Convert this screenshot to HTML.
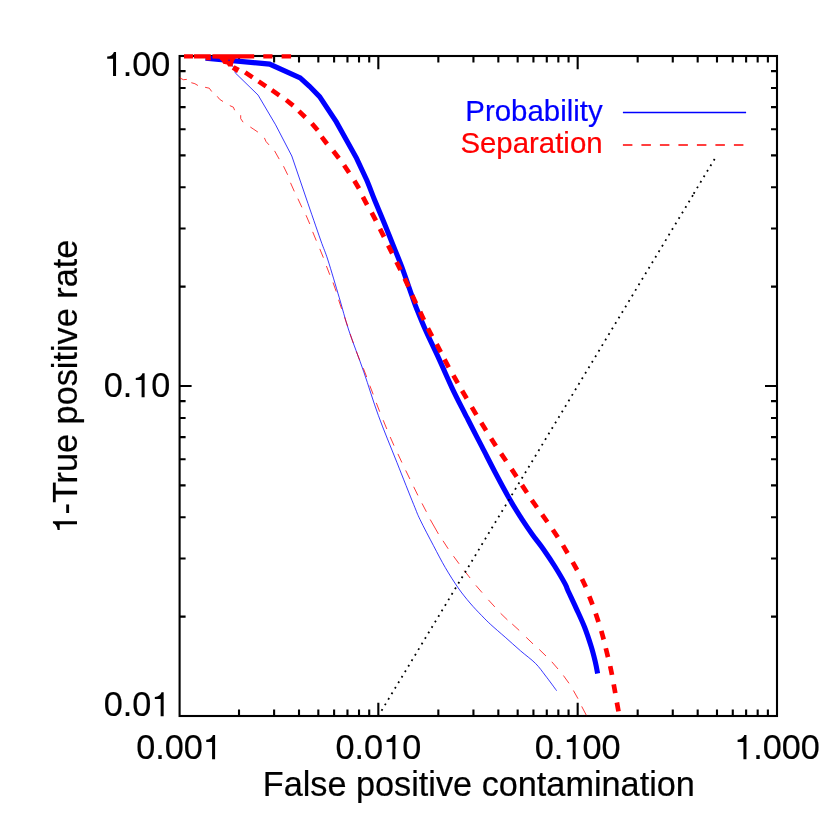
<!DOCTYPE html>
<html><head><meta charset="utf-8"><title>ROC</title>
<style>
html,body{margin:0;padding:0;background:#fff;}
body{width:830px;height:830px;overflow:hidden;}
svg{display:block;will-change:transform;}
text{font-family:"Liberation Sans",sans-serif;}
</style></head><body>
<svg width="830" height="830" viewBox="0 0 830 830">
<rect width="830" height="830" fill="#fff"/>
<rect x="179.6" y="56.0" width="597.4" height="660.0" fill="none" stroke="#000" stroke-width="2.1"/>
<path d="M239.01,716.0 v-6.6 M239.01,56.0 v6.6 M274.11,716.0 v-6.6 M274.11,56.0 v6.6 M299.01,716.0 v-6.6 M299.01,56.0 v6.6 M318.33,716.0 v-6.6 M318.33,56.0 v6.6 M334.11,716.0 v-6.6 M334.11,56.0 v6.6 M347.46,716.0 v-6.6 M347.46,56.0 v6.6 M359.02,716.0 v-6.6 M359.02,56.0 v6.6 M369.21,716.0 v-6.6 M369.21,56.0 v6.6 M378.33,716.0 v-13.2 M378.33,56.0 v13.2 M438.34,716.0 v-6.6 M438.34,56.0 v6.6 M473.44,716.0 v-6.6 M473.44,56.0 v6.6 M498.34,716.0 v-6.6 M498.34,56.0 v6.6 M517.66,716.0 v-6.6 M517.66,56.0 v6.6 M533.44,716.0 v-6.6 M533.44,56.0 v6.6 M546.79,716.0 v-6.6 M546.79,56.0 v6.6 M558.35,716.0 v-6.6 M558.35,56.0 v6.6 M568.55,716.0 v-6.6 M568.55,56.0 v6.6 M577.67,716.0 v-13.2 M577.67,56.0 v13.2 M637.67,716.0 v-6.6 M637.67,56.0 v6.6 M672.77,716.0 v-6.6 M672.77,56.0 v6.6 M697.68,716.0 v-6.6 M697.68,56.0 v6.6 M716.99,716.0 v-6.6 M716.99,56.0 v6.6 M732.78,716.0 v-6.6 M732.78,56.0 v6.6 M746.12,716.0 v-6.6 M746.12,56.0 v6.6 M757.68,716.0 v-6.6 M757.68,56.0 v6.6 M767.88,716.0 v-6.6 M767.88,56.0 v6.6 M179.6,616.66 h6.0 M777.0,616.66 h-6.0 M179.6,558.55 h6.0 M777.0,558.55 h-6.0 M179.6,517.32 h6.0 M777.0,517.32 h-6.0 M179.6,485.34 h6.0 M777.0,485.34 h-6.0 M179.6,459.21 h6.0 M777.0,459.21 h-6.0 M179.6,437.12 h6.0 M777.0,437.12 h-6.0 M179.6,417.98 h6.0 M777.0,417.98 h-6.0 M179.6,401.10 h6.0 M777.0,401.10 h-6.0 M179.6,386.00 h12.0 M777.0,386.00 h-12.0 M179.6,286.66 h6.0 M777.0,286.66 h-6.0 M179.6,228.55 h6.0 M777.0,228.55 h-6.0 M179.6,187.32 h6.0 M777.0,187.32 h-6.0 M179.6,155.34 h6.0 M777.0,155.34 h-6.0 M179.6,129.21 h6.0 M777.0,129.21 h-6.0 M179.6,107.12 h6.0 M777.0,107.12 h-6.0 M179.6,87.98 h6.0 M777.0,87.98 h-6.0 M179.6,71.10 h6.0 M777.0,71.10 h-6.0" fill="none" stroke="#000" stroke-width="2.1"/>
<path d="M206.0,58.0 L229.0,60.3 L234.6,69.0 L235.2,72.8 L258.1,95.1 L275.6,124.8 L291.8,156.0 L306.1,198.0 C310.9,212.0 317.0,229.7 320.6,240.0 C324.2,250.3 324.8,250.4 327.9,260.0 C331.0,269.6 335.8,286.1 339.3,297.8 C342.8,309.5 344.6,317.6 348.7,330.0 C352.8,342.4 358.9,357.7 363.8,371.9 C368.7,386.1 372.8,400.2 378.3,415.3 C383.8,430.4 391.0,447.5 396.9,462.4 C402.8,477.3 409.8,495.1 413.7,504.6 C417.6,514.1 416.7,512.6 420.0,519.5 C423.3,526.4 429.3,537.7 433.5,545.7 C437.7,553.7 441.2,560.6 445.3,567.6 C449.4,574.6 454.0,581.9 458.1,587.8 C462.2,593.7 466.1,598.4 470.0,603.0 C473.9,607.6 478.3,612.1 481.8,615.7 C485.3,619.3 486.9,621.0 490.8,624.6 C494.7,628.2 500.3,632.9 505.2,637.2 C510.1,641.6 515.4,646.3 520.4,650.7 C525.4,655.1 531.3,659.2 535.5,663.4 C539.7,667.6 542.2,671.5 545.7,676.0 C549.2,680.5 554.8,688.2 556.6,690.7" fill="none" stroke="#0000ff" stroke-width="0.78"/>
<path d="M179.8,77.9 L183.4,79.7 L186.8,79.4 M191.3,82.7 L194.9,83.7 L197.9,85.5 M205.1,87.3 L209.3,88.2 L211.7,91.5 M217.2,96.3 L219.6,99.3 L223.0,101.5 M229.8,105.6 L233.4,107.2 L234.6,110.2 M240.7,115.2 L240.7,118.6 L243.1,122.2 M250.3,127.0 L253.9,129.4 L257.9,132.1 M264.4,137.9 L266.0,141.5 L269.0,144.9 M274.6,150.9 L279.2,159.1 M283.5,166.2 L287.7,174.8 M290.5,182.8 L294.3,191.4 M297.9,198.7 L301.9,207.3 M306.0,215.2 L309.8,224.0 M312.7,231.9 L316.3,240.7 M319.8,248.9 L323.4,257.7 M326.4,266.0 L329.8,274.8 M333.0,282.5 L336.2,291.5 M338.6,299.8 L341.6,308.8 M344.6,317.2 L347.6,326.2 M350.1,334.0 L353.3,343.0 M356.3,351.4 L359.7,360.2 M363.3,368.2 L366.7,377.0 M369.8,385.6 L373.2,394.4 M376.3,402.9 L379.7,411.7 M383.2,420.2 L386.8,429.0 M390.2,437.0 L394.0,445.6 M397.9,453.9 L401.9,462.5 M405.7,470.4 L409.9,479.0 M413.7,486.8 L417.9,495.4 M422.0,503.4 L426.4,511.8 M430.2,519.5 L438.4,533.9 M443.0,540.8 L448.2,548.8 M453.5,556.2 L459.1,563.8 M464.3,570.6 L470.1,578.0 M475.9,585.4 L482.1,592.6 M488.4,599.9 L494.8,606.9 M500.6,613.3 L507.4,619.9 M512.2,624.0 L519.2,630.4 M526.2,637.3 L533.0,643.9 M539.2,649.4 L546.0,656.0 M551.8,661.8 L558.0,669.0 M563.4,675.5 L569.0,683.3 M573.4,690.5 L578.0,698.7 M581.7,706.4 L586.3,715.2" fill="none" stroke="#ff0000" stroke-width="0.78"/>
<path d="M205.5,58.1 L269.6,64.1 L300.2,77.8 L309.5,86.3 L319.6,96.6 L336.3,121.9 L356.5,158.1 L366.7,180.0 C369.7,187.0 371.7,192.8 374.6,200.0 C377.6,207.2 381.4,216.1 384.4,223.4 C387.4,230.7 389.7,236.8 392.6,244.0 C395.5,251.2 398.5,258.1 401.7,266.7 C404.9,275.3 409.5,289.0 411.9,295.7 C414.3,302.4 413.7,301.3 416.0,307.0 C418.3,312.7 421.7,321.4 425.5,330.0 C429.3,338.6 434.6,349.3 439.0,358.9 C443.4,368.5 447.7,378.6 452.0,387.8 C456.3,397.0 462.3,408.5 465.0,413.9 C467.7,419.3 465.4,414.5 468.2,420.0 C471.0,425.5 477.3,437.8 481.9,446.7 C486.5,455.6 491.0,464.6 495.7,473.5 C500.4,482.4 505.7,492.2 510.0,499.8 C514.3,507.4 518.0,513.0 521.7,518.8 C525.5,524.6 528.9,529.6 532.5,534.7 C536.1,539.8 539.7,543.9 543.4,549.2 C547.1,554.5 551.3,560.7 554.9,566.5 C558.5,572.3 563.0,580.0 565.1,583.9 C567.2,587.8 565.9,586.0 567.7,590.0 C569.5,594.0 573.3,601.9 576.1,608.1 C578.9,614.3 582.1,620.9 584.6,627.3 C587.1,633.7 589.4,640.8 591.2,646.6 C593.0,652.4 594.3,657.8 595.4,662.3 C596.5,666.8 597.2,671.6 597.6,673.5" fill="none" stroke="#0000ff" stroke-width="5.1" stroke-linejoin="miter"/>
<path d="M184,54.2 H193 V58.6 H184 Z M193.9,54.2 H210.8 V60.3 H205.8 V58.6 H193.9 Z M212.4,54.2 H254.2 V58.6 H235.5 L234,60.7 L233.2,63.4 L232.4,66.5 L228.2,66.4 L227,64.6 L223.2,63.8 L222,61.5 L219.3,58.8 L212.4,58.6 Z M263.3,54.2 H272.5 V58.6 H263.3 Z M281.6,54.2 H291.1 V58.6 H281.6 Z M234.5,65.3 L239.8,68 L237,73 L231.7,69.5 Z" fill="#ff0000" stroke="none"/>
<path d="M245.2,72.4 L252.6,77.4 M258.6,81.4 L266.0,86.4 M271.9,90.2 L279.3,95.4 M286.2,100.0 L293.2,105.6 M298.9,111.1 L305.3,117.3 M311.9,123.5 L317.7,130.3 M321.7,136.8 L327.1,144.0 M333.3,151.0 L338.9,158.2 M344.1,165.3 L349.1,172.7 M354.4,180.7 L359.0,188.5 M362.9,196.8 L367.1,204.8 M371.7,212.7 L375.9,220.7 M380.0,228.9 L384.0,236.9 M388.2,245.4 L392.2,253.4 M396.5,262.0 L400.5,270.0 M404.7,278.5 L408.5,286.7 M412.2,295.2 L416.0,303.4 M420.1,311.8 L423.9,320.0 M427.9,328.4 L432.1,336.4 M436.6,344.1 L440.8,352.1 M444.5,359.3 L448.7,367.3 M453.4,375.3 L457.8,383.1 M462.1,390.7 L466.7,398.5 M471.8,407.1 L476.4,414.9 M481.3,422.8 L486.1,430.4 M491.1,438.4 L495.9,446.0 M501.1,453.6 L506.1,461.0 M511.6,469.1 L516.6,476.7 M522.0,485.1 L527.0,492.7 M531.8,500.1 L537.0,507.5 M542.2,514.6 L547.4,522.0 M552.8,529.7 L557.8,537.3 M563.0,545.4 L567.6,553.2 M572.7,562.2 L577.1,570.0 M582.0,578.9 L585.8,587.1 M589.3,596.3 L592.5,604.7 M595.7,613.5 L598.5,622.1 M601.3,630.9 L603.7,639.5 M605.8,648.3 L608.0,657.1 M610.2,666.1 L612.0,674.9 M613.7,684.3 L615.3,693.1 M616.9,702.5 L618.5,711.3" fill="none" stroke="#ff0000" stroke-width="4.7"/>
<circle cx="229" cy="60.3" r="0.8" fill="#0000ff"/>
<path d="M378.20,716.21 L692.95,195.14" fill="none" stroke="#000" stroke-width="1.8" stroke-dasharray="1.8 4.657"/>
<path d="M714.67,158.93 L693.66,193.70" fill="none" stroke="#000" stroke-width="1.8" stroke-dasharray="1.8 4.670"/>
<text x="136.15" y="759.2" font-size="34.25" stroke="#000" stroke-width="0.2">0.00</text>
<path transform="translate(202.80,759.20) scale(34.25)" d="M0.359,0 L0.271,0 L0.271,-0.505 L0.101,-0.505 L0.101,-0.566 Q0.262,-0.585 0.297,-0.703 L0.359,-0.703 Z" fill="#000"/>
<text x="335.49" y="759.2" font-size="34.25" stroke="#000" stroke-width="0.2">0.0</text>
<path transform="translate(383.09,759.20) scale(34.25)" d="M0.359,0 L0.271,0 L0.271,-0.505 L0.101,-0.505 L0.101,-0.566 Q0.262,-0.585 0.297,-0.703 L0.359,-0.703 Z" fill="#000"/>
<text x="402.14" y="759.2" font-size="34.25" stroke="#000" stroke-width="0.2">0</text>
<text x="534.82" y="759.2" font-size="34.25" stroke="#000" stroke-width="0.2">0.</text>
<path transform="translate(563.38,759.20) scale(34.25)" d="M0.359,0 L0.271,0 L0.271,-0.505 L0.101,-0.505 L0.101,-0.566 Q0.262,-0.585 0.297,-0.703 L0.359,-0.703 Z" fill="#000"/>
<text x="582.43" y="759.2" font-size="34.25" stroke="#000" stroke-width="0.2">00</text>
<path transform="translate(734.15,759.20) scale(34.25)" d="M0.359,0 L0.271,0 L0.271,-0.505 L0.101,-0.505 L0.101,-0.566 Q0.262,-0.585 0.297,-0.703 L0.359,-0.703 Z" fill="#000"/>
<text x="753.20" y="759.2" font-size="34.25" stroke="#000" stroke-width="0.2">.000</text>
<path transform="translate(103.75,76.00) scale(34.25)" d="M0.359,0 L0.271,0 L0.271,-0.505 L0.101,-0.505 L0.101,-0.566 Q0.262,-0.585 0.297,-0.703 L0.359,-0.703 Z" fill="#000"/>
<text x="122.79" y="76.0" font-size="34.25" stroke="#000" stroke-width="0.2">.00</text>
<text x="103.75" y="397.3" font-size="34.25" stroke="#000" stroke-width="0.2">0.</text>
<path transform="translate(132.31,397.30) scale(34.25)" d="M0.359,0 L0.271,0 L0.271,-0.505 L0.101,-0.505 L0.101,-0.566 Q0.262,-0.585 0.297,-0.703 L0.359,-0.703 Z" fill="#000"/>
<text x="151.36" y="397.3" font-size="34.25" stroke="#000" stroke-width="0.2">0</text>
<text x="103.75" y="716.3" font-size="34.25" stroke="#000" stroke-width="0.2">0.0</text>
<path transform="translate(151.36,716.30) scale(34.25)" d="M0.359,0 L0.271,0 L0.271,-0.505 L0.101,-0.505 L0.101,-0.566 Q0.262,-0.585 0.297,-0.703 L0.359,-0.703 Z" fill="#000"/>
<text x="478.8" y="795.5" font-size="34.25" text-anchor="middle" stroke="#000" stroke-width="0.2">False positive contamination</text>
<g transform="translate(77,386) rotate(-90)"><path transform="translate(-147.51,0.00) scale(34.25)" d="M0.359,0 L0.271,0 L0.271,-0.505 L0.101,-0.505 L0.101,-0.566 Q0.262,-0.585 0.297,-0.703 L0.359,-0.703 Z" fill="#000"/><text x="-128.47" y="0" font-size="34.25" stroke="#000" stroke-width="0.2">-True positive rate</text></g>
<text x="602.6" y="120.5" font-size="29.4" text-anchor="end" fill="#0000ff" stroke="#0000ff" stroke-width="0.2">Probability</text>
<text x="602.6" y="153.2" font-size="29.4" text-anchor="end" fill="#ff0000" stroke="#ff0000" stroke-width="0.2">Separation</text>
<path d="M622.9,112.6 H746.1" stroke="#0000ff" stroke-width="1.5" fill="none"/>
<path d="M622.9,145 H746.1" stroke="#ff0000" stroke-width="1.5" fill="none" stroke-dasharray="9.5 9"/>
</svg>
</body></html>
